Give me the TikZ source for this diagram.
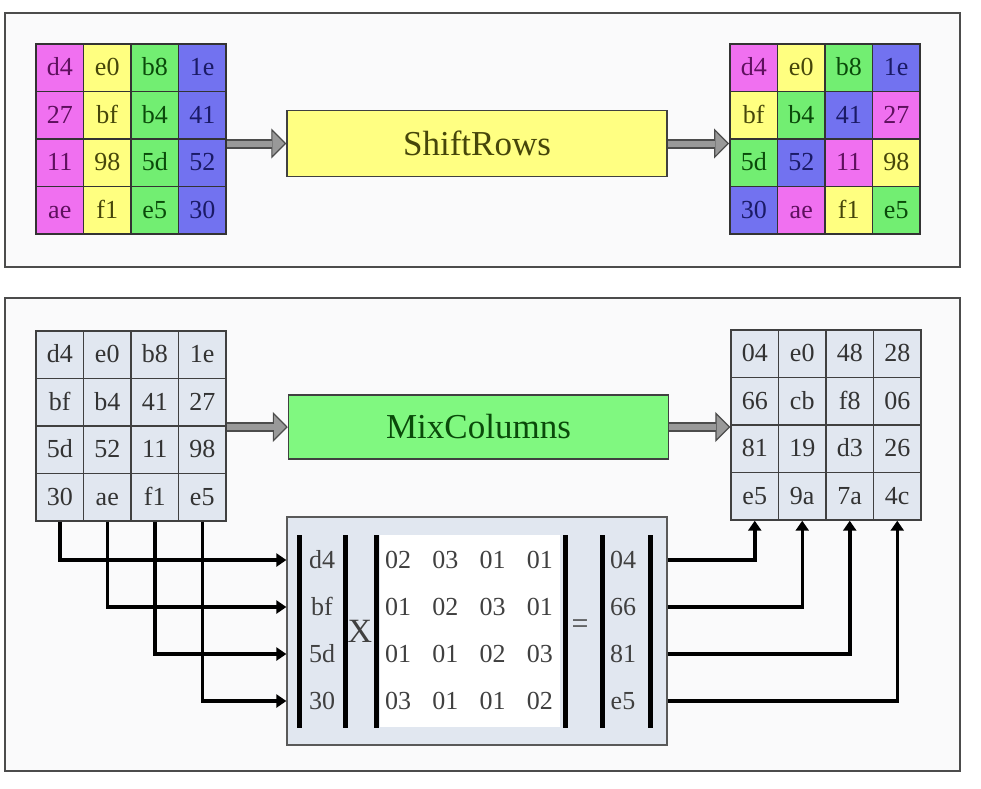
\documentclass[tikz,border=0pt]{standalone}
\usepackage{fontspec}
\setmainfont{Liberation Serif}
\usetikzlibrary{arrows.meta, positioning}
\definecolor{bg0}{HTML}{F070F0}
\definecolor{bg1}{HTML}{FFFF80}
\definecolor{bg2}{HTML}{72EE72}
\definecolor{bg3}{HTML}{7272F0}
\definecolor{fg0}{HTML}{5E105E}
\definecolor{fg1}{HTML}{46460A}
\definecolor{fg2}{HTML}{0A4A0A}
\definecolor{fg3}{HTML}{1A1A66}
\definecolor{cellgray}{HTML}{E1E7F0}
\definecolor{panelbg}{HTML}{FAFAFB}
\definecolor{yellowbox}{HTML}{FFFF82}
\definecolor{greenbox}{HTML}{80F880}
\tikzset{
  cell/.style = {draw=black!80, line width=1.8pt, minimum size=47.5pt,
    inner sep=0pt, text height=16.5pt, text depth=0.5pt,
    font=\fontsize{26}{30}\selectfont},
  graycell/.style = {cell, fill=cellgray, draw=black!75, line width=1.4pt,
    text=black!80},
  procbox/.style = {draw=black!75, line width=1.5pt, minimum width=380pt,
    minimum height=66pt, font=\fontsize{35}{42}\selectfont},
  panel/.style = {draw=black!70, line width=2pt, fill=panelbg},
  fatarrow/.style = {line width=10pt, draw=black!70,
    -{Triangle[length=15pt, width=30pt, line width=1.2pt, fill=gray!80]},
    postaction={draw=gray!80, line width=6pt, arrows=-, shorten >=14pt}},
  conn/.style = {line width=3.5pt, -{Triangle[length=10pt, width=13pt]}},
  bar/.style = {line width=5pt},
  mtext/.style = {inner sep=0pt, text=black!75, text height=16.5pt,
    text depth=0.5pt, font=\fontsize{26}{30}\selectfont}
}
\begin{document}
\begin{tikzpicture}[x=1pt, y=-1pt]
\useasboundingbox (0,0) rectangle (981,788);
\draw[panel] (5,13) rectangle (960,267);
\draw[panel] (5,298) rectangle (960,771);

% state before ShiftRows
\foreach \r/\row in {0/{d4,e0,b8,1e},1/{27,bf,b4,41},2/{11,98,5d,52},3/{ae,f1,e5,30}}
  \foreach \t [count=\c from 0] in \row
    \node[cell, fill=bg\c, text=fg\c] (sl-\r-\c) at (59.75+47.5*\c, 67.75+47.5*\r) {\t};

% state after ShiftRows
\foreach \r/\row in {0/{d4,e0,b8,1e},1/{bf,b4,41,27},2/{5d,52,11,98},3/{30,ae,f1,e5}}
  \foreach \t [count=\c from 0] in \row {
    \pgfmathtruncatemacro{\k}{mod(\c+\r,4)}
    \node[cell, fill=bg\k, text=fg\k] (sr-\r-\c) at (753.75+47.5*\c, 67.75+47.5*\r) {\t};
  }

\node[procbox, fill=yellowbox, text=fg1] (shift) at (477,143.5) {ShiftRows};
\draw[fatarrow] (shift.west -| sl-1-3.east) -- (shift.west);
\draw[fatarrow] (shift.east) -- (shift.east -| sr-1-0.west);

% MixColumns
\foreach \r/\row in {0/{d4,e0,b8,1e},1/{bf,b4,41,27},2/{5d,52,11,98},3/{30,ae,f1,e5}}
  \foreach \t [count=\c from 0] in \row
    \node[graycell] (ml-\r-\c) at (59.75+47.5*\c, 354.75+47.5*\r) {\t};

\foreach \r/\row in {0/{04,e0,48,28},1/{66,cb,f8,06},2/{81,19,d3,26},3/{e5,9a,7a,4c}}
  \foreach \t [count=\c from 0] in \row
    \node[graycell] (mr-\r-\c) at (754.75+47.5*\c, 353.75+47.5*\r) {\t};

\node[procbox, fill=greenbox, text=fg2, minimum height=64pt] (mix) at (478.5,427) {MixColumns};
\draw[fatarrow] (mix.west -| ml-1-3.east) -- (mix.west);
\draw[fatarrow] (mix.east) -- (mix.east -| mr-1-0.west);

% the product
\node[draw=black!65, line width=1.3pt, fill=cellgray, minimum width=380pt,
  minimum height=228pt] (mat) at (477,631) {};
\fill[white] (380,535) rectangle (560,727);
\foreach \x in {299,345,376,565,602,650}
  \draw[bar] (\x,535) -- (\x,728);
\foreach \t [count=\i from 0] in {d4,bf,5d,30}
  \node[mtext] (vin-\i) at (322,560+47*\i) {\t};
\foreach \r/\row in {0/{02,03,01,01},1/{01,02,03,01},2/{01,01,02,03},3/{03,01,01,02}}
  \foreach \t [count=\c from 0] in \row
    \node[mtext] (coef-\r-\c) at (398+47.3*\c, 560+47*\r) {\t};
\node[mtext, font=\fontsize{34}{40}\selectfont, text height=22pt] (times) at (360,632) {X};
\node[mtext, font=\fontsize{30}{36}\selectfont, text height=10pt, text depth=0pt] (equals) at (580,628) {=};
\foreach \t [count=\i from 0] in {04,66,81,e5}
  \node[mtext] (vout-\i) at (623,560+47*\i) {\t};

\foreach \i in {0,...,3}
  \draw[conn] (ml-3-\i.south) |- (mat.west |- vin-\i);
\foreach \i in {0,...,3}
  \draw[conn] (mat.east |- vout-\i) -| (mr-3-\i.south);
\end{tikzpicture}
\end{document}
